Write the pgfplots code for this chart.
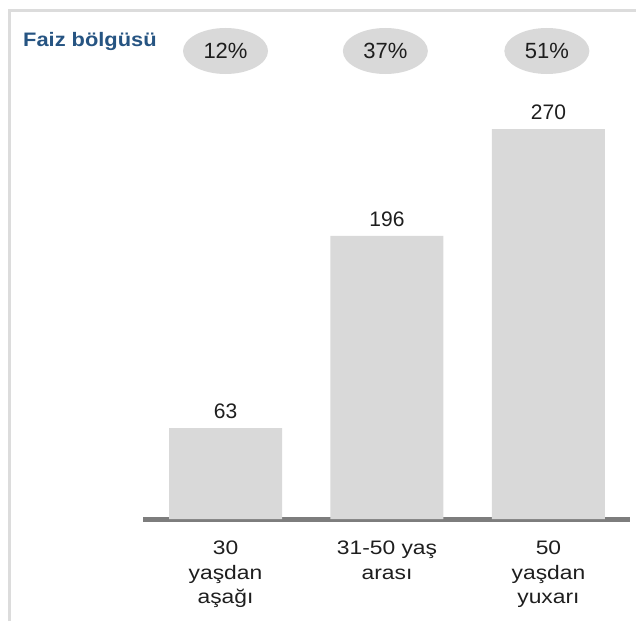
\documentclass[border=0pt]{standalone}
\usepackage{pgfplots}
\pgfplotsset{compat=1.18}
\usetikzlibrary{shapes.geometric}
\usepackage{fontspec}
\setmainfont{Liberation Sans}
\newfontfamily\stretchfont[FakeStretch=1.17]{Liberation Sans}
\newfontfamily\titlefont[FakeStretch=1.12]{Liberation Sans}
\definecolor{bargray}{RGB}{217,217,217}
\definecolor{basegray}{RGB}{125,125,125}
\definecolor{framegray}{RGB}{220,220,220}
\definecolor{titleblue}{RGB}{38,84,130}
\definecolor{txt}{RGB}{30,30,30}
\begin{document}
\begin{tikzpicture}
\useasboundingbox (0,0) rectangle (636pt,621pt);
\draw[framegray, line width=3pt] (9pt,0pt) -- (9pt,610pt) -- (636pt,610pt);
\node[anchor=base west, inner sep=0pt, text=titleblue, font=\titlefont\bfseries\fontsize{19.5}{24}\selectfont] at (23pt,574pt) {Faiz bölgüsü};
\begin{axis}[
  at={(143pt,102pt)}, anchor=south west,
  scale only axis, width=487pt, height=433.33pt,
  xmin=-0.511, xmax=2.505, ymin=0, ymax=300,
  axis x line*=bottom, axis y line=none,
  x axis line style={-, line width=5pt, draw=basegray},
  xtick={0,1,2},
  xticklabels={{30\\yaşdan\\aşağı},{31-50 yaş\\arası},{50\\yaşdan\\yuxarı}},
  xticklabel style={align=center, anchor=north, inner sep=0pt, text=txt,
    font=\stretchfont\fontsize{19.5}{24.5}\selectfont},
  major tick length=0pt,
  xticklabel shift=22pt,
  ybar, bar width=113pt,
  clip=false,
  /pgf/number format/assume math mode=true,
  nodes near coords,
  nodes near coords style={font=\fontsize{21}{25}\selectfont, inner sep=0pt, anchor=south, yshift=9pt, text=txt},
]
\addplot[fill=bargray, draw=none] coordinates {(0,63) (1,196) (2,270)};
\node[ellipse, fill=bargray, minimum width=85pt, minimum height=46pt, inner sep=0pt, text=txt, font=\fontsize{22}{26}\selectfont] at (axis cs:0,324) {12\%};
\node[ellipse, fill=bargray, minimum width=85pt, minimum height=46pt, inner sep=0pt, text=txt, font=\fontsize{22}{26}\selectfont] at (axis cs:0.99,324) {37\%};
\node[ellipse, fill=bargray, minimum width=85pt, minimum height=46pt, inner sep=0pt, text=txt, font=\fontsize{22}{26}\selectfont] at (axis cs:1.99,324) {51\%};
\end{axis}
\end{tikzpicture}
\end{document}
